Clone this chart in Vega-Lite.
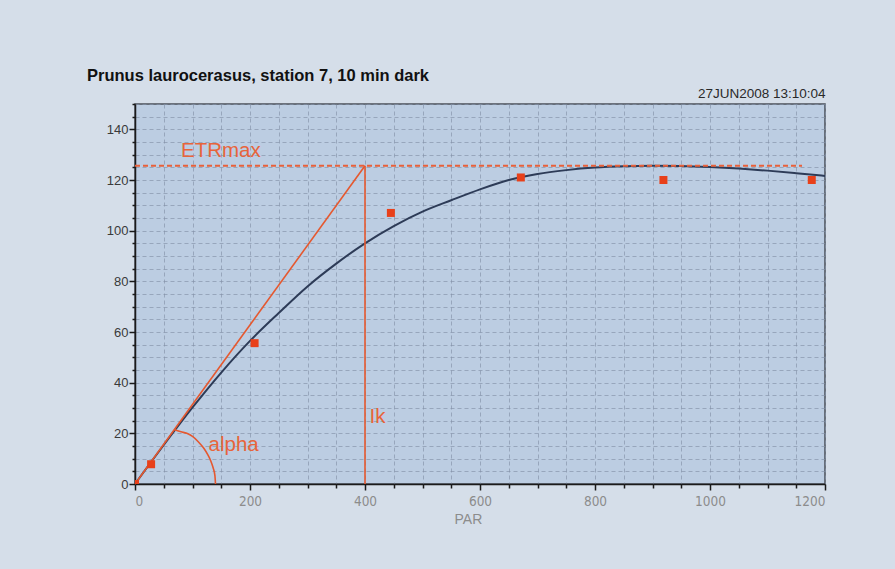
{
  "$schema": "https://vega.github.io/schema/vega-lite/v6.json",
  "autosize": "none",
  "width": 690,
  "height": 380,
  "padding": {"left": 135, "top": 104, "right": 70, "bottom": 85},
  "background": "#D5DEE9",
  "title": {
    "text": "Prunus laurocerasus, station 7, 10 min dark",
    "anchor": "start",
    "frame": "group",
    "dx": -48,
    "dy": 6,
    "font": "Liberation Sans",
    "fontSize": 16.5,
    "fontWeight": "bold",
    "color": "#111111",
    "offset": 8
  },
  "config": {
    "view": {"fill": "#BCCDE2", "stroke": "#4A4F58", "strokeWidth": 1.5},
    "axis": {"gridDash": [4, 3], "gridColor": "#8291A8", "gridOpacity": 0.65, "gridWidth": 1}
  },
  "datasets": {
    "fit": [
      {"x": 0, "y": 0}, {"x": 25, "y": 7.8}, {"x": 50, "y": 15.4}, {"x": 100, "y": 30.2},
      {"x": 150, "y": 44}, {"x": 200, "y": 56.5}, {"x": 250, "y": 67.5}, {"x": 300, "y": 78},
      {"x": 350, "y": 87}, {"x": 400, "y": 95}, {"x": 450, "y": 101.8}, {"x": 500, "y": 107.5},
      {"x": 550, "y": 112}, {"x": 600, "y": 116.3}, {"x": 650, "y": 120}, {"x": 700, "y": 122.4},
      {"x": 750, "y": 123.9}, {"x": 800, "y": 124.9}, {"x": 850, "y": 125.4}, {"x": 900, "y": 125.6},
      {"x": 950, "y": 125.5}, {"x": 1000, "y": 125.1}, {"x": 1050, "y": 124.5}, {"x": 1100, "y": 123.7},
      {"x": 1150, "y": 122.7}, {"x": 1200, "y": 121.6}
    ],
    "measured": [
      {"x": 0, "y": 0}, {"x": 28, "y": 7.8}, {"x": 208, "y": 55.6}, {"x": 445, "y": 107},
      {"x": 671, "y": 121}, {"x": 919, "y": 120}, {"x": 1177, "y": 120}
    ],
    "alphaLine": [{"x": 0, "y": 0}, {"x": 400, "y": 125.6}],
    "arc": [
      {"x": 69, "y": 21.4}, {"x": 80, "y": 20.6}, {"x": 90, "y": 20}, {"x": 100, "y": 18.8},
      {"x": 110, "y": 16.7}, {"x": 120, "y": 14}, {"x": 127, "y": 11.4}, {"x": 132, "y": 9},
      {"x": 136, "y": 6.3}, {"x": 139, "y": 3.3}, {"x": 140, "y": 0}
    ],
    "etrmax": [{"x": 0, "x2": 1160, "y": 125.6}],
    "ik": [{"x": 400, "y": 0, "y2": 125.6}],
    "labels": [
      {"x": 80, "y": 129, "label": "ETRmax"},
      {"x": 128, "y": 13.1, "label": "alpha"},
      {"x": 408, "y": 24, "label": "Ik"}
    ]
  },
  "resolve": {"axis": {"x": "independent"}},
  "layer": [
    {
      "data": {"name": "fit"},
      "mark": {"type": "line", "color": "#2D3B57", "strokeWidth": 2, "interpolate": "monotone"},
      "encoding": {
        "x": {
          "field": "x", "type": "quantitative",
          "scale": {"domain": [0, 1200], "nice": false},
          "axis": {
            "values": [0,50,100,150,200,250,300,350,400,450,500,550,600,650,700,750,800,850,900,950,1000,1050,1100,1150,1200],
            "tickCount": 200,
            "format": "d",
            "labelExpr": "datum.value % 200 === 0 ? datum.label : ''",
            "tickSize": {"condition": {"test": "datum.value % 200 === 0", "value": 6}, "value": 4},
            "tickColor": "#1A1A1A", "tickWidth": 1.5,
            "domainColor": "#1A1A1A", "domainWidth": 1.5,
            "labelFont": "DejaVu Sans Condensed", "labelFontSize": 13.5, "labelColor": "#8C8C8C", "labelPadding": 4,
            "labelOverlap": false,
            "title": "PAR",
            "titleFont": "Liberation Sans", "titleFontSize": 14, "titleFontWeight": "normal",
            "titleColor": "#8C8C8C",
            "titleX": 319, "titleY": 39, "titleAlign": "left", "titleBaseline": "alphabetic",
            "grid": true
          }
        },
        "y": {
          "field": "y", "type": "quantitative",
          "scale": {"domain": [0, 150], "nice": false},
          "axis": {
            "values": [0,5,10,15,20,25,30,35,40,45,50,55,60,65,70,75,80,85,90,95,100,105,110,115,120,125,130,135,140,145,150],
            "tickCount": 200,
            "labelExpr": "datum.value % 20 === 0 ? datum.label : ''",
            "tickSize": {"condition": {"test": "datum.value % 20 === 0", "value": 6}, "value": 3},
            "tickColor": "#1A1A1A", "tickWidth": 1.5,
            "domainColor": "#1A1A1A", "domainWidth": 1.5,
            "labelFont": "Liberation Sans", "labelFontSize": 13, "labelColor": "#3A3A3A",
            "labelPadding": 1,
            "labelOverlap": false,
            "title": null,
            "grid": true
          }
        }
      }
    },
    {
      "data": {"name": "alphaLine"},
      "mark": {"type": "line", "color": "#E5582F", "strokeWidth": 1.6},
      "encoding": {
        "x": {
          "field": "x", "type": "quantitative",
          "axis": {
            "orient": "top", "labels": false, "ticks": false, "domain": false, "grid": false,
            "title": "27JUN2008  13:10:04",
            "titleFont": "Liberation Sans",
            "titleFontSize": 13.5, "titleFontWeight": "normal", "titleColor": "#2A2A2A",
            "titleX": 690, "titleY": -7, "titleAlign": "right", "titleBaseline": "alphabetic"
          }
        },
        "y": {"field": "y", "type": "quantitative"}
      }
    },
    {
      "data": {"name": "ik"},
      "mark": {"type": "rule", "color": "#E5582F", "strokeWidth": 1.6},
      "encoding": {
        "x": {"field": "x", "type": "quantitative", "axis": null},
        "y": {"field": "y", "type": "quantitative"},
        "y2": {"field": "y2"}
      }
    },
    {
      "data": {"name": "etrmax"},
      "mark": {"type": "rule", "color": "#E8603A", "strokeWidth": 2, "strokeDash": [5, 3]},
      "encoding": {
        "x": {"field": "x", "type": "quantitative", "axis": null},
        "x2": {"field": "x2"},
        "y": {"field": "y", "type": "quantitative"}
      }
    },
    {
      "data": {"name": "arc"},
      "mark": {"type": "line", "color": "#E5582F", "strokeWidth": 1.6, "interpolate": "monotone"},
      "encoding": {
        "x": {"field": "x", "type": "quantitative", "axis": null},
        "y": {"field": "y", "type": "quantitative"}
      }
    },
    {
      "data": {"name": "measured"},
      "mark": {"type": "square", "color": "#E8401A", "filled": true, "opacity": 1, "size": 64, "clip": true},
      "encoding": {
        "x": {"field": "x", "type": "quantitative", "axis": null},
        "y": {"field": "y", "type": "quantitative"}
      }
    },
    {
      "data": {"name": "labels"},
      "mark": {"type": "text", "align": "left", "baseline": "alphabetic", "font": "Liberation Sans", "fontSize": 20.5, "color": "#E8643A"},
      "encoding": {
        "x": {"field": "x", "type": "quantitative", "axis": null},
        "y": {"field": "y", "type": "quantitative"},
        "text": {"field": "label"}
      }
    }
  ]
}
